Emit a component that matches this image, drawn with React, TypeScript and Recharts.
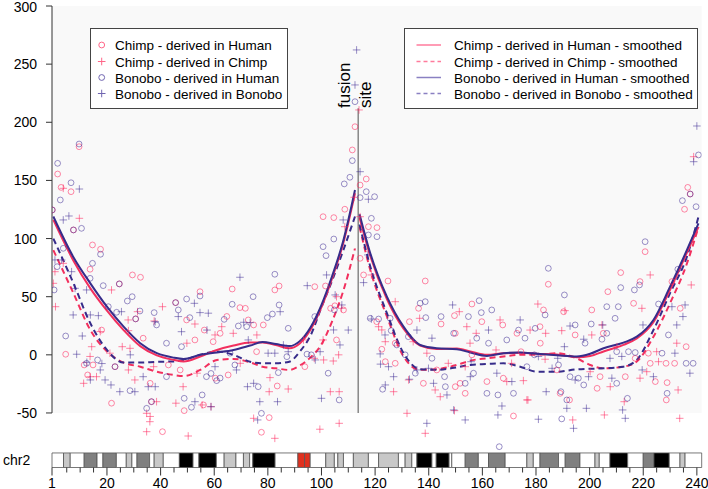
import React from "react";
import {
  ComposedChart,
  Scatter,
  Line,
  XAxis,
  YAxis,
  ReferenceArea,
  ReferenceLine,
} from "recharts";

const FONT = "'Liberation Sans', Arial, Helvetica, sans-serif";
const W = 708;
const H = 489;

const X_MIN = -0.5;
const X_MAX = 241.8;
const Y_MIN = -96.9;
const Y_MAX = 300;
const FUSION = 113.7;

// axis ticks
const yTicks = [-50, 0, 50, 100, 150, 200, 250, 300];
const xTicks = [
  X_MIN, 5, 10, 15, 20, 25, 30, 35, 40, 45, 50, 55, 60, 65, 70, 75, 80, 85, 90, 95, 100,
  105, 110, 115, 120, 125, 130, 135, 140, 145, 150, 155, 160, 165, 170, 175, 180, 185,
  190, 195, 200, 205, 210, 215, 220, 225, 230, 235, 240,
];
const xLabels = [X_MIN, 20, 40, 60, 80, 100, 120, 140, 160, 180, 200, 220, 240];

// chr2 ideogram bands: [start, end, stain]
const bands: [number, number, string][] = [
  [-0.5, 3.8, "w"], [3.8, 6.3, "lg"], [6.3, 11.5, "w"], [11.5, 16.3, "dg"], [16.3, 18.5, "w"],
  [18.5, 23.5, "dg"], [23.5, 27.2, "w"], [27.2, 29.3, "lg"], [29.3, 31.2, "w"], [31.2, 35.9, "dg"],
  [35.9, 37.6, "w"], [37.6, 41, "lg"], [41, 47, "w"], [47, 52.1, "b"], [52.1, 54.3, "w"],
  [54.3, 60.8, "b"], [60.8, 63.7, "w"], [63.7, 68.1, "lg"], [68.1, 70.9, "w"], [70.9, 73.2, "lg"],
  [73.2, 74.4, "w"], [74.4, 82.7, "b"], [82.7, 91.2, "w"], [91.2, 93.7, "cen"], [93.7, 95.8, "cen"],
  [95.8, 101.6, "w"], [101.6, 104.8, "lg"], [104.8, 106.1, "w"], [106.1, 108.2, "lg"], [108.2, 111.9, "w"],
  [111.9, 117.5, "lg"], [117.5, 121.3, "w"], [121.3, 128.7, "lg"], [128.7, 131.2, "w"], [131.2, 133.7, "lg"],
  [133.7, 135.6, "w"], [135.6, 141.2, "b"], [141.2, 142.8, "w"], [142.8, 147.6, "b"], [147.6, 148.6, "w"],
  [148.6, 153.6, "w"], [153.6, 158.5, "dg"], [158.5, 162.3, "w"], [162.3, 168.5, "dg"], [168.5, 176.6, "w"],
  [176.6, 179, "lg"], [179, 181.5, "w"], [181.5, 188.4, "dg"], [188.4, 190.9, "w"], [190.9, 196.4, "dg"],
  [196.4, 202, "w"], [202, 203.6, "lg"], [203.6, 207.6, "w"], [207.6, 214.2, "b"], [214.2, 220, "w"],
  [220, 224, "dg"], [224, 229.7, "b"], [229.7, 233.7, "w"], [233.7, 235.6, "lg"], [235.6, 241.8, "w"],
];
const stainColor: Record<string, string> = {
  w: "#ffffff",
  lg: "#c8c8c8",
  dg: "#808080",
  b: "#000000",
  cen: "#e0301e",
};

// scatter points [Mb, value]
const chimpHuman: [number, number][] = [
  [9.6, 179], [1.6, 155.5], [2.9, 144], [6.6, 140.3], [-0.4, 124.6], [7.5, 107.4], [14.6, 94.5],
  [17.6, 90.8], [13.7, 73.6], [24.6, 61], [29.5, 68.7], [32.5, 66.7], [30.7, 30.9], [54.7, 54.3],
  [45.6, 44.9], [49.7, 30], [56.3, 21.3], [52.8, 12.8], [33.5, 14.3], [18, 21.3], [4.6, 0.5],
  [11.5, -8.7], [12.8, -17.3], [23, -10.2], [21.7, -41.6], [36.6, -40.3], [40.7, -66.1], [42.9, -8.7],
  [48.8, -48], [112.5, 196.2], [111.5, 176.2], [108.7, 125.2], [100.6, 118.8], [104.6, 118],
  [101.5, 59.2], [97.5, 58.6], [105.6, 12.8], [84.2, 59.2], [82.6, 55.8], [66.7, 56.6], [69.6, 40.6],
  [78.3, 25.7], [72.7, 30], [93.8, -10.2], [83.5, -26.8], [80.5, -54], [77.6, -66.6], [65.2, -17.3],
  [59.6, 11.3], [75.8, 2.7], [116.7, 151.2], [114.4, 146], [117.5, 110.2], [120.7, 109.4], [114.4, 83],
  [115.7, 68.7], [124.8, 63.5], [138.7, 63.5], [122.5, 4.8], [123.8, -5.9], [136.2, 40], [138, -24.5],
  [156.1, 43.7], [159.8, 28.5], [149.9, 18.5], [156.1, 0], [153.6, -33.1], [149.9, -27.4],
  [171.6, -52.6], [167.6, 25.7], [172.9, 18.5], [190.3, 37.1], [149.6, 33.7], [144.6, 26.5],
  [132.8, 28.5], [151.7, -24.5], [161.7, -23], [192.5, -38.8], [236.6, 144], [237.5, 138.3],
  [235.4, 125.2], [220.7, 88.7], [230.7, 63], [184.6, 60.7], [211.6, 70.7], [206.8, 54.3],
  [216.4, 44.3], [233.8, 40], [182.8, 38.6], [200.8, 38.6], [181.6, 10], [202.8, -28.8],
  [213.3, -18.8], [217, -3], [222.6, -7.3], [231.7, -7.3], [236, 7], [228.9, -23.9], [189, -33.1],
  [218.8, 63], [71.6, 40], [74.7, 25.7], [64.7, 33], [62.2, 18.5], [14.8, -8.7], [47.3, -13],
  [60.4, -20.1], [103.4, 40], [105, 42.2], [108.2, 38.6], [36.1, -24.5], [56, -43.1], [120.6, 28.5],
  [127.5, 10], [174.4, 2.7], [181.5, 24.2], [194.6, 17.1], [205.1, 18.5], [221.9, 1.4], [228.5, -7.3],
  [127.5, -7.3], [143, -13], [167.8, -20.1], [187.8, -13], [203.9, -18.8], [224.5, -23], [228.6, -38.8],
];
const chimpChimp: [number, number][] = [
  [3.7, 143.2], [9.7, 117.4], [0.6, 71.5], [3.7, 78.7], [0, 61.5], [21.7, 55.8], [0.8, 41.4],
  [31.4, 37.1], [27.9, 30], [37.6, 29.1], [40.7, 41.4], [52.8, 26.5], [28, 20.8], [25.7, 7],
  [28.6, 5.6], [14.3, 7], [13.7, -1.4], [13.7, -18.8], [16.1, -18.8], [21.1, 1.4], [30.4, -21.6],
  [34.8, -50.3], [36, -57.5], [34.8, -66.1], [50.3, -69.8], [38.5, -40.3], [45.7, -41.6],
  [48.4, -27.4], [55.5, -43.1], [17.5, 20], [36.1, -53], [112.2, 135.5], [108.7, 110.2],
  [105.6, 50], [107.5, 40], [104.4, -5.3], [106.6, -31.7], [99.4, -64], [106.6, -58.9], [62.8, 24.2],
  [67.1, 18.5], [100.6, 12.8], [97.3, -3], [80.8, -19.6], [80.5, -31.7], [87.6, -29.4],
  [82.6, -71.8], [58.8, -44.6], [60.3, 17.1], [75.9, 17.1], [100.8, -4.4], [106.4, 0],
  [103.3, -31.7], [114, 210.6], [114.4, 118.8], [118.6, 68.7], [127.5, 45.7], [121.3, 24.2],
  [126.9, -31.7], [131.9, -50.3], [132.5, -21.6], [136.6, 31.4], [139.3, 1.4], [142.4, -30.2],
  [144.3, -36], [138.7, -67.5], [149.6, -48], [151.4, 37.1], [154.2, 24.2], [153.6, -10.2],
  [166.6, 30], [177, -38.8], [123.8, 11.3], [157.7, 18.5], [169.1, -23], [175.3, -22.2],
  [183.4, -3.8], [238.8, 170.4], [222.6, 68.7], [237.9, 60.1], [219.5, 40], [180.7, 43.7],
  [190.8, 38], [204.6, 25.7], [189.6, 20.8], [177.8, 21.3], [207.7, -27.4], [218.8, -20.1],
  [225.7, -5.9], [233, -30.2], [233.6, -54.6], [212.9, -40.3], [205.5, -51.7], [193.7, -56],
  [176.6, -38.8], [210.2, 7], [225, 2.7], [232.5, 10], [221.3, -14.5], [49.8, 10], [28, -13],
  [37.4, -10.2], [53.6, -15.8], [69.7, -7.3], [93.3, 12.8], [11.3, -24.5], [74.7, -54.6],
  [122.5, 21.4], [134.2, 11.3], [155.4, 10], [165.1, 4.2], [183.6, 18.5], [200.8, 17.1],
  [147.3, -7.3], [170.9, -7.3], [200.2, -14.5],
];
const bonoboHuman: [number, number][] = [
  [9.6, 181.3], [1.6, 164.7], [6.6, 148], [2.6, 133.2], [-0.4, 124.6], [7.5, 107.4], [10.5, 108.8],
  [17.6, 86.5], [3.7, 91.6], [1.4, 75.8], [14.6, 78.7], [13.7, 65.8], [0.3, 55.8], [18.6, 59.5],
  [24.6, 61], [29.4, 50], [27.6, 46.3], [20.5, 41.4], [23.6, 36.6], [32.3, 37.7], [30.7, 30.9],
  [37.6, 36.3], [38.5, 25.7], [45.6, 44.9], [49.7, 48], [54.7, 50.6], [46.6, 38.6], [50.9, 32],
  [47.8, 7], [42.2, 10], [4.6, 16.2], [12.4, -7.3], [16.5, -4.4], [23, -10.2], [28.6, -30.8],
  [36.6, -40.3], [34.8, -46], [42.2, -18.8], [48.8, -37.4], [51.5, -45.1], [55.5, -34.5],
  [57.1, -18.8], [112.5, 217.7], [111.5, 167], [110.6, 152.7], [108.5, 147], [104.6, 99.6],
  [100.6, 93], [101.7, 85.3], [104.8, 38.6], [82.6, 69.3], [74.5, 50], [66.7, 43.5], [84.2, 42.9],
  [81.7, 35.1], [79.8, 32], [72.1, 24.2], [69, 24.8], [63.7, 30.5], [87.6, 22.8], [97.5, 32.9],
  [102.5, -15.8], [106.6, -38.8], [83.9, -15.3], [76.4, -27.4], [77.6, -50.3], [60.9, -22.2],
  [67.7, -8.7], [65.9, 1.4], [116.7, 140.3], [114.4, 135.2], [119.8, 136], [118.6, 117.4],
  [117.5, 103.1], [120.7, 101.6], [121.3, 30.8], [126, 20.8], [128.1, 8.5], [122.8, -29.6],
  [131.2, 0], [135, -15.8], [136.8, 44.4], [138.7, 45.7], [144.6, 32.9], [141.2, -3], [145.9, -18.8],
  [154.8, 32.9], [158.8, 46.6], [159.6, 36.3], [153.6, -24.5], [146.2, -27.4], [161.7, -33.1],
  [165.8, -34.5], [163.5, 38.6], [162.3, 10], [169.1, 12.8], [173.5, 21.3], [175.9, 14.3],
  [171.6, -33.1], [166.3, -79], [240.6, 171.9], [237.5, 138.3], [234.6, 132.6], [239.7, 127.4],
  [220.7, 97.3], [232.9, 73.6], [184.6, 74.4], [190.6, 51.5], [211.6, 57.8], [218.6, 60.1],
  [216.7, 55.8], [225.7, 43.7], [183.4, 34.3], [179.7, 22.8], [206.4, 41.4], [210.7, 41.4],
  [209.5, 31.4], [200.6, 26.5], [194.6, 25.7], [204.6, 13.4], [188.4, -8.7], [192.7, -18.8],
  [197.8, -25.9], [227, 1.4], [236, -7.3], [228.9, -33.1], [214.1, -37.4], [189.6, -55.1],
  [206.4, 18.5], [149.3, 18.5], [125.6, 31.4], [189.3, -31.7], [191.5, -38.8], [118.2, 31.4],
  [58.8, -16], [62.2, -20], [87.1, -1.6], [94.6, 0.6], [96.2, 0], [132.4, 15.6], [138.9, 32],
  [157.9, 14.3], [179.4, 0], [198.3, 10], [210.1, 2.7], [214.5, 2.7], [217, 2], [229.4, 17.1],
  [156.7, -15.8], [176.6, -10.2], [195.8, -20.1], [210.1, -24.5], [238.6, -7.3],
];
const bonoboBonobo: [number, number][] = [
  [9.7, 142.6], [3.7, 116], [5.8, 119.4], [0.6, 81.6], [3.1, 81.6], [6.8, 71.5], [8.1, 57.2],
  [12.4, 55.8], [7.4, 34.3], [16.8, 33.7], [25.4, 37.1], [52.6, 44.3], [46.6, 32.9], [54.7, 36.3],
  [57.8, 35.8], [47.8, 19.9], [10.8, 16.2], [8.7, 0.5], [19.3, -21.6], [21.5, -25.9], [24.8, -31.7],
  [30.4, -31.7], [33.5, -18.8], [35.4, -27.4], [52.8, -40.3], [58.8, -44.6], [84.6, 37.1],
  [13.8, 34.3], [99.5, 2.7], [97.7, -4.4], [17.5, -13], [38, -27.4], [104.5, 21.4], [105.1, 51.5],
  [113.1, 262.2], [112.5, 232.1], [108.1, 116], [101.9, 68.7], [94.7, 59.5], [110, 21.3],
  [106.9, 8.5], [100, -37.4], [69.6, 66.7], [87.6, 2.7], [80.1, 1.4], [72.4, -27.4], [77, -40.3],
  [83.6, -40.3], [76.2, -56], [68.3, -13], [60.3, -10.2], [72.7, 12.8], [114.4, 157.5],
  [117.5, 133.8], [117.3, 85.9], [115.7, 62.1], [118.6, 30.8], [121.9, 0.8], [125, -10.2],
  [126.9, -18.8], [123.8, -25.9], [135.6, 21.3], [141.2, 14.3], [141.8, -24.5], [146.8, -34.5],
  [139.3, -58.9], [153.6, -56], [148.9, 42.9], [155.5, -18.8], [162.3, 21.3], [174.1, 30], [171, -23],
  [167.3, -44], [165.8, -51.7], [240, 196.8], [238.8, 166.1], [192.7, 24.8], [197.8, 13.4],
  [190.6, 7], [180.9, -1.4], [188.1, -3], [186, -11.6], [194.6, -21.6], [212, -1.4], [223.8, -18.8],
  [212.3, -47.4], [213.3, -54.6], [198.8, -46], [191.5, -46], [194, -63.2], [180.9, -55.4],
  [204.9, 25.7], [219.9, 25.7], [235.6, 42.9], [232.5, 25.7], [234.8, 32.9], [183.8, -31.7],
  [149.3, -47.4], [199.6, -18.8], [208.3, -20.1], [132.8, -21], [139.9, -11.6], [155.8, -5.9],
  [230.7, 41.4], [38, 28.5], [71, 28], [73.4, 27.7], [57.3, 21.3], [28.7, 0], [12.5, -6.4],
  [18.1, -7.5], [82.6, 1.4], [85.8, 8.5], [107.6, 42.9], [13.8, -21.6], [74.7, -24.5], [123.7, 17.1],
  [207.6, -3], [231.8, 1.4], [122, -8], [135.6, -13], [165.4, -15.8], [219.6, -13], [237.4, -15.8],
];

// smoothed curves, one per arm
const leftX = [0, 7.5, 13.8, 20, 26.2, 32.4, 38.6, 44.8, 48.6, 54.8, 61, 67.2, 73.4, 78, 83, 88, 92, 96, 100, 104, 108, 112.5];
const leftChimpHuman = [116, 81, 57.2, 38, 21.3, 7.5, -0.5, -4.3, -5.7, -1.4, 4.2, 8, 10.5, 10.5, 8.5, 5.6, 10, 22, 41, 66, 95, 139];
const leftChimpChimp = [90, 53, 21.3, 2.9, -6.7, -10.2, -14.5, -17.3, -18.2, -13, -4.5, -3.5, -6.5, -10.2, -11.6, -13, -9, -2, 9, 29, 54, 91.6];
const leftBonoboHuman = [119, 84, 61.5, 41.4, 24.2, 10, 1.4, -2.4, -3.5, 0, 2, 4.2, 8, 11, 9.3, 7.5, 12, 24, 43, 68, 97, 141.8];
const leftBonoboBonobo = [100, 61.5, 27.1, 4.2, -6.7, -6.7, -6, -5.7, -4.3, 0, 2.9, 0, -6, -7.3, -7.3, -5.9, 3, 17, 41, 64, 89, 119];

const rightX = [114.2, 118.2, 124.4, 130.6, 136.8, 143, 150.5, 155.5, 161.7, 167.9, 174.1, 180.3, 187.8, 195.2, 200.2, 205.2, 212.6, 217.6, 223.8, 230, 236.3, 240.6];
const rightChimpHuman = [118, 85, 48, 22.5, 8, 5, 5.5, 2.9, 0, 1.4, 1.8, 0.9, 0.3, -2, -1, 2.9, 8.5, 14, 28, 56, 88, 110];
const rightChimpChimp = [110, 73, 33, -1.4, -12.9, -12.3, -8.7, -5, -3, -1.4, 0, 0, 1.4, -3, -8.7, -11.6, -10.2, -5.7, 15.6, 44.4, 78.6, 110];
const rightBonoboHuman = [121, 87.4, 50, 24.2, 8.5, 5.7, 4.9, 2, -0.9, 1.4, 2, 0.9, -0.3, -1.4, 0.9, 5.7, 10.5, 15.6, 30, 58.6, 90.2, 113];
const rightBonoboBonobo = [112, 76, 35.8, 1.4, -12.3, -12.9, -10.7, -8.7, -7.9, -7.3, -10.2, -14.5, -14.5, -12.5, -12, -11.6, -10.2, -4.3, 21.3, 53, 84.4, 118.8];

const PINK_PT = "rgba(255, 40, 95, 0.55)";
const NAVY_PT = "rgba(55, 35, 145, 0.5)";
const PINK_LINE = "#f2305e";
const NAVY_LINE = "#372c8a";

const toPts = (arr: [number, number][]) => arr.map(([x, y]) => ({ x, y }));
const toCurve = (xs: number[], ys: number[]) => xs.map((x, i) => ({ x, y: ys[i] }));

const circleShape = (color: string) => (p: any) =>
  <circle cx={p.cx} cy={p.cy} r={2.9} fill="none" stroke={color} strokeWidth={1} />;
const plusShape = (color: string) => (p: any) => (
  <path d={`M${p.cx - 3.8},${p.cy}h7.6M${p.cx},${p.cy - 3.8}v7.6`} stroke={color} strokeWidth={1} fill="none" />
);

function XTick(props: any) {
  const { x, y, payload } = props;
  const v = payload.value;
  const major = xLabels.includes(v);
  return (
    <g>
      <line x1={x} y1={y} x2={x} y2={y + (major ? 8 : 5)} stroke="#333" strokeWidth={1} />
      {major && (
        <text x={x} y={y + 20} textAnchor="middle" fontSize={14} fontFamily={FONT} fill="#000">
          {v === X_MIN ? "1" : v}
        </text>
      )}
    </g>
  );
}

function YTick(props: any) {
  const { x, y, payload } = props;
  // keep the top label inside the picture
  const base = payload.value === Y_MAX ? Math.max(y + 5, 12) : y + 5;
  return (
    <text x={x} y={base} textAnchor="end" fontSize={14} fontFamily={FONT} fill="#000">
      {payload.value}
    </text>
  );
}

const pointLegend = [
  { label: "Chimp - derived in Human", color: "#ff6688", kind: "circle" },
  { label: "Chimp - derived in Chimp", color: "#ff6688", kind: "plus" },
  { label: "Bonobo - derived in Human", color: "#6f64b0", kind: "circle" },
  { label: "Bonobo - derived in Bonobo", color: "#6f64b0", kind: "plus" },
];
const lineLegend = [
  { label: "Chimp - derived in Human - smoothed", color: "#ff7b9c", dash: undefined },
  { label: "Chimp - derived in Chimp - smoothed", color: "#ff7b9c", dash: "4 3" },
  { label: "Bonobo - derived in Human - smoothed", color: "#8a80c2", dash: undefined },
  { label: "Bonobo - derived in Bonobo - smoothed", color: "#8a80c2", dash: "4 3" },
];
const rowsY = [45, 61.5, 77.5, 93.5];

function Overlay() {
  return (
    <svg width={W} height={H} style={{ position: "absolute", left: 0, top: 0, pointerEvents: "none" }}>
      <g fontFamily={FONT} fontSize={13.5} fill="#000">
        <rect x={90.5} y={28.5} width={197} height={80} fill="#fff" stroke="#444" />
        {pointLegend.map((it, i) => (
          <g key={it.label}>
            {it.kind === "circle" ? (
              <circle cx={101.7} cy={rowsY[i]} r={2.9} fill="none" stroke={it.color} />
            ) : (
              <path d={`M97.9,${rowsY[i]}h7.6M101.7,${rowsY[i] - 3.8}v7.6`} stroke={it.color} />
            )}
            <text x={115} y={rowsY[i] + 5}>{it.label}</text>
          </g>
        ))}
        <rect x={404.5} y={28.5} width={293} height={80} fill="#fff" stroke="#444" />
        {lineLegend.map((it, i) => (
          <g key={it.label}>
            <line x1={416.5} x2={441} y1={rowsY[i]} y2={rowsY[i]} stroke={it.color} strokeWidth={1.5} strokeDasharray={it.dash} />
            <text x={454} y={rowsY[i] + 5}>{it.label}</text>
          </g>
        ))}
        <text x={3} y={465} fontSize={14}>chr2</text>
        <g fontSize={17}>
          <text transform="translate(350,108) rotate(-90)">fusion</text>
          <text transform="translate(371,108) rotate(-90)">site</text>
        </g>
      </g>
    </svg>
  );
}

export default function App() {
  return (
    <div style={{ position: "absolute", left: 0, top: 0, width: W, height: H, background: "#fff", fontFamily: FONT }}>
      <ComposedChart width={W} height={H} margin={{ top: 6, right: 6.3, bottom: 0, left: 0 }}>
        <ReferenceArea x1={X_MIN} x2={X_MAX} y1={-50} y2={300} fill="#f9f9f9" fillOpacity={1} stroke="none" ifOverflow="visible" />
        {bands.map(([s, e, st], i) => (
          <ReferenceArea
            key={i}
            x1={s}
            x2={e}
            y1={Y_MIN}
            y2={-84.4}
            fill={stainColor[st]}
            fillOpacity={1}
            stroke="#555"
            strokeWidth={0.8}
            ifOverflow="visible"
          />
        ))}
        <XAxis
          type="number"
          dataKey="x"
          domain={[X_MIN, X_MAX]}
          ticks={xTicks}
          interval={0}
          axisLine={false}
          tickLine={false}
          tickSize={0}
          tickMargin={0}
          height={21.5}
          tick={<XTick />}
          allowDataOverflow
        />
        <YAxis
          type="number"
          dataKey="y"
          domain={[Y_MIN, Y_MAX]}
          ticks={yTicks}
          interval={0}
          width={52}
          axisLine={false}
          tickSize={6}
          tickMargin={9}
          tickLine={{ stroke: "#333" }}
          tick={<YTick />}
          allowDataOverflow
        />
        <ReferenceLine segment={[{ x: X_MIN, y: -50 }, { x: X_MIN, y: 300 }]} stroke="#333" ifOverflow="visible" />
        <ReferenceLine segment={[{ x: FUSION, y: -50 }, { x: FUSION, y: 212 }]} stroke="#888" strokeWidth={1.5} />

        <Scatter data={toPts(chimpHuman)} dataKey="y" shape={circleShape(PINK_PT)} isAnimationActive={false} />
        <Scatter data={toPts(chimpChimp)} dataKey="y" shape={plusShape(PINK_PT)} isAnimationActive={false} />
        <Scatter data={toPts(bonoboHuman)} dataKey="y" shape={circleShape(NAVY_PT)} isAnimationActive={false} />
        <Scatter data={toPts(bonoboBonobo)} dataKey="y" shape={plusShape(NAVY_PT)} isAnimationActive={false} />

        <Line data={toCurve(leftX, leftChimpChimp)} dataKey="y" type="monotone" stroke={PINK_LINE} strokeWidth={2} strokeDasharray="6 4" dot={false} isAnimationActive={false} />
        <Line data={toCurve(leftX, leftBonoboBonobo)} dataKey="y" type="monotone" stroke={NAVY_LINE} strokeWidth={2} strokeDasharray="6 4" dot={false} isAnimationActive={false} />
        <Line data={toCurve(leftX, leftChimpHuman)} dataKey="y" type="monotone" stroke={PINK_LINE} strokeWidth={2} dot={false} isAnimationActive={false} />
        <Line data={toCurve(leftX, leftBonoboHuman)} dataKey="y" type="monotone" stroke={NAVY_LINE} strokeWidth={2} dot={false} isAnimationActive={false} />
        <Line data={toCurve(rightX, rightChimpChimp)} dataKey="y" type="monotone" stroke={PINK_LINE} strokeWidth={2} strokeDasharray="6 4" dot={false} isAnimationActive={false} />
        <Line data={toCurve(rightX, rightBonoboBonobo)} dataKey="y" type="monotone" stroke={NAVY_LINE} strokeWidth={2} strokeDasharray="6 4" dot={false} isAnimationActive={false} />
        <Line data={toCurve(rightX, rightChimpHuman)} dataKey="y" type="monotone" stroke={PINK_LINE} strokeWidth={2} dot={false} isAnimationActive={false} />
        <Line data={toCurve(rightX, rightBonoboHuman)} dataKey="y" type="monotone" stroke={NAVY_LINE} strokeWidth={2} dot={false} isAnimationActive={false} />
      </ComposedChart>
      <Overlay />
    </div>
  );
}
